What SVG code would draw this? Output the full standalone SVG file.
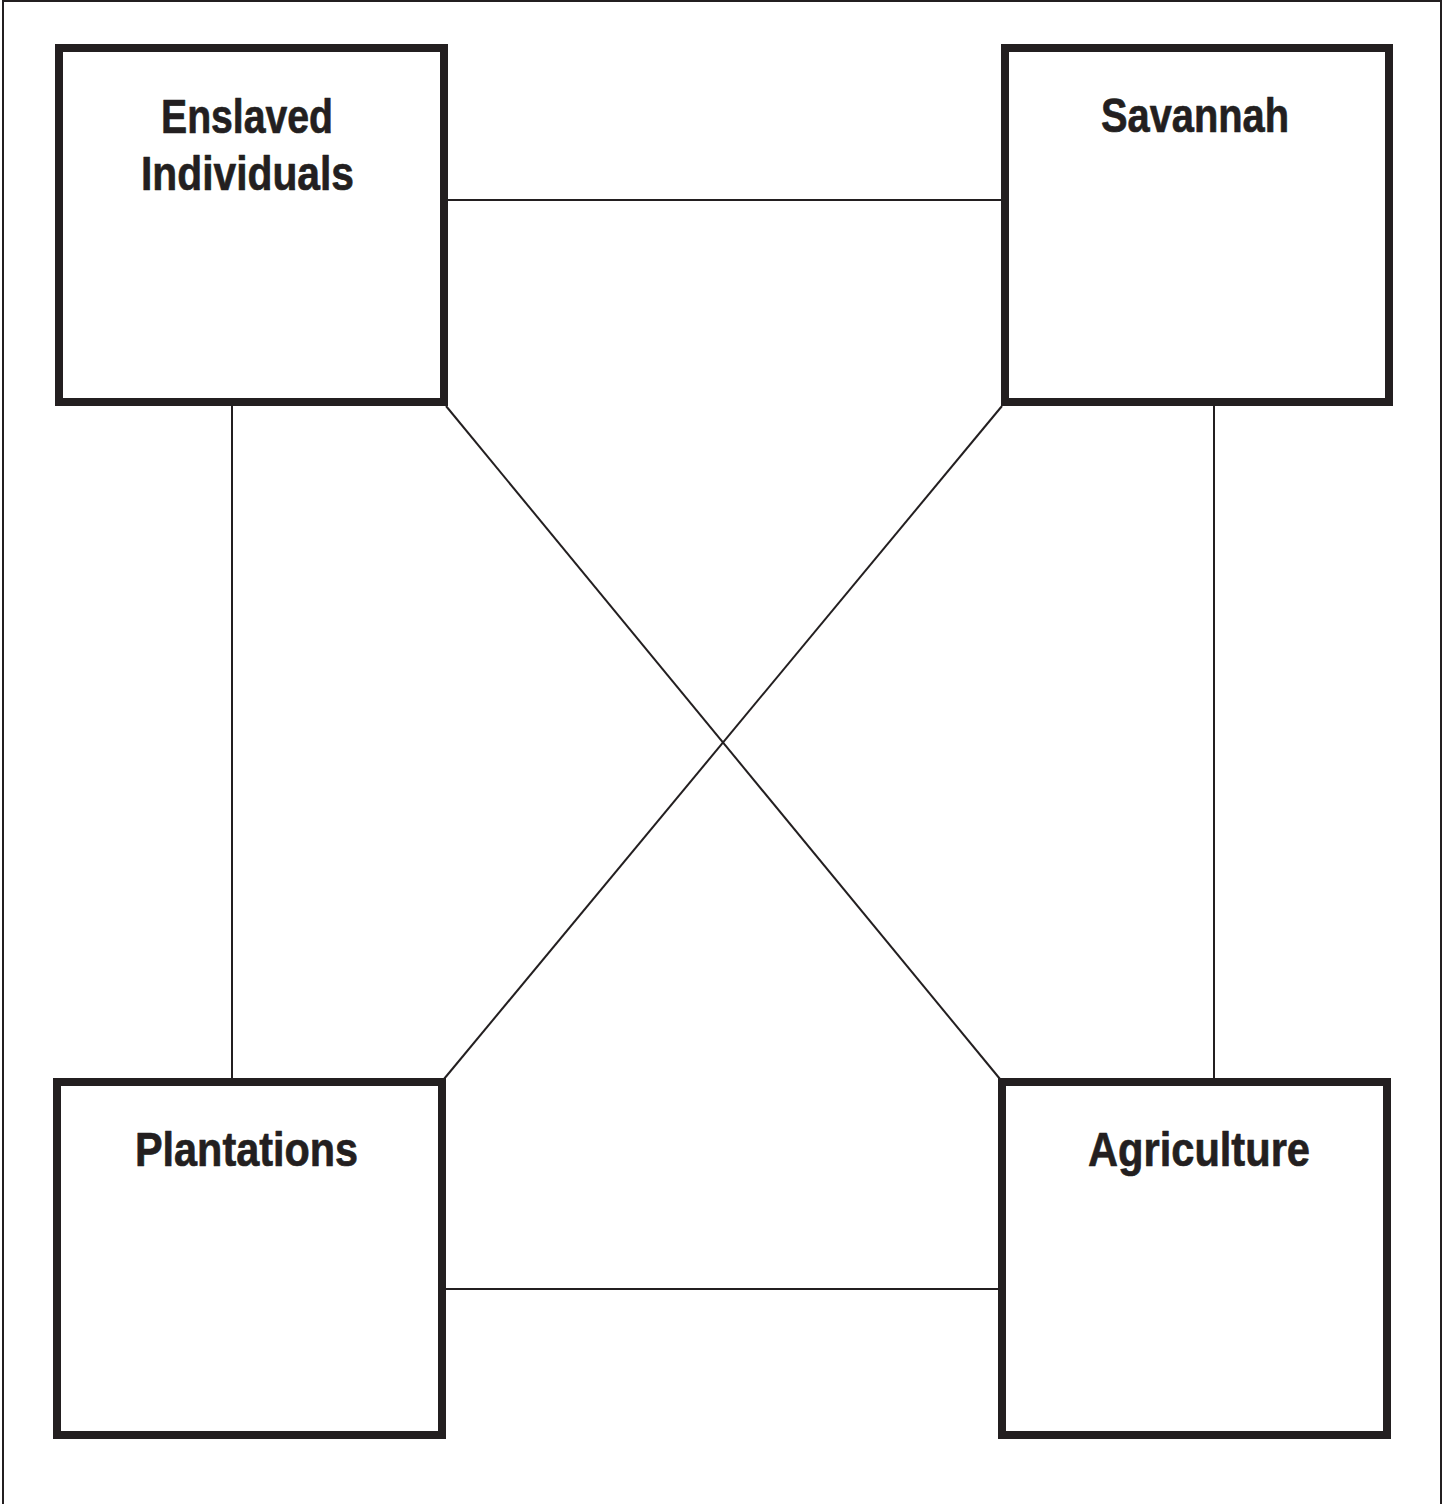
<svg xmlns="http://www.w3.org/2000/svg" width="1448" height="1504" viewBox="0 0 1448 1504">
<style>
.frame{fill:none;stroke:#231f20;stroke-width:2}
.box{fill:#fff;stroke:#231f20;stroke-width:8}
.conn{stroke:#231f20;stroke-width:2;fill:none}
.lbl{font-family:"Liberation Sans Narrow","Liberation Sans",Arial,sans-serif;font-weight:bold;font-size:49px;fill:#231f20;stroke:#231f20;stroke-width:0.7;stroke-linejoin:round}
</style>
<rect x="0" y="0" width="1448" height="1504" fill="#fff"/>
<path class="frame" d="M3,1504 V1 H1441 V1504"/>
<g id="connectors">
<line class="conn" x1="448" y1="200" x2="1001" y2="200"/>
<line class="conn" x1="232" y1="406" x2="232" y2="1078"/>
<line class="conn" x1="1214" y1="406" x2="1214" y2="1078"/>
<line class="conn" x1="446" y1="1289" x2="998" y2="1289"/>
<line class="conn" x1="446" y1="406" x2="1000" y2="1079"/>
<line class="conn" x1="1002" y1="406" x2="444" y2="1079"/>
</g>
<g id="node-enslaved">
<rect class="box" x="59" y="48" width="385" height="354"/>
<text class="lbl" x="161" y="133" textLength="172" lengthAdjust="spacingAndGlyphs">Enslaved</text>
<text class="lbl" x="141" y="190" textLength="213" lengthAdjust="spacingAndGlyphs">Individuals</text>
</g>
<g id="node-savannah">
<rect class="box" x="1005" y="48" width="384" height="354"/>
<text class="lbl" x="1101" y="132" textLength="188" lengthAdjust="spacingAndGlyphs">Savannah</text>
</g>
<g id="node-plantations">
<rect class="box" x="57" y="1082" width="385" height="353"/>
<text class="lbl" x="135" y="1166" textLength="223" lengthAdjust="spacingAndGlyphs">Plantations</text>
</g>
<g id="node-agriculture">
<rect class="box" x="1002" y="1082" width="385" height="353"/>
<text class="lbl" x="1088" y="1166" textLength="222" lengthAdjust="spacingAndGlyphs">Agriculture</text>
</g>
</svg>
